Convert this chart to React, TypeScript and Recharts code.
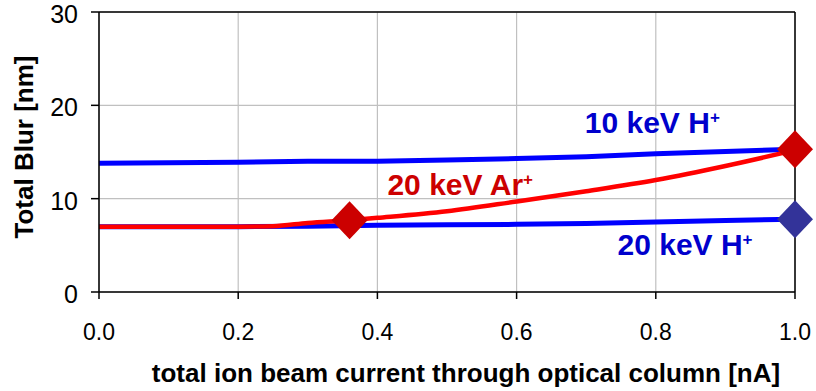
import React from 'react'
import {
  ComposedChart,
  Line,
  Scatter,
  XAxis,
  YAxis,
  CartesianGrid,
  ReferenceLine,
  ReferenceDot,
  Label,
} from 'recharts'

// x positions (total current, nA)
const hCurrent = [0, 0.1, 0.2, 0.3, 0.4, 0.5, 0.6, 0.7, 0.8, 0.9, 1.0]
const h10Blur = [13.8, 13.85, 13.9, 14.0, 14.0, 14.15, 14.3, 14.5, 14.8, 15.05, 15.3]
const h20Blur = [7.0, 7.0, 7.0, 7.05, 7.15, 7.2, 7.25, 7.35, 7.5, 7.65, 7.8]

const arCurrent = [0, 0.2, 0.25, 0.3, 0.36, 0.4, 0.5, 0.6, 0.7, 0.8, 0.9, 1.0]
const arBlur = [7.0, 7.0, 7.05, 7.4, 7.7, 7.95, 8.65, 9.7, 10.8, 12.0, 13.5, 15.2]

const arMarkerX = [0.36, 1.0]
const arMarkerY = [7.7, 15.3]
const h20MarkerX = [1.0]
const h20MarkerY = [7.8]

const xTicks = [0, 0.2, 0.4, 0.6, 0.8, 1.0]
const yTicks = [0, 10, 20, 30]

const h10Data = hCurrent.map((x, i) => ({ x, y: h10Blur[i] }))
const h20Data = hCurrent.map((x, i) => ({ x, y: h20Blur[i] }))
const arData = arCurrent.map((x, i) => ({ x, y: arBlur[i] }))
const arMarkers = arMarkerX.map((x, i) => ({ x, y: arMarkerY[i] }))
const h20Markers = h20MarkerX.map((x, i) => ({ x, y: h20MarkerY[i] }))

const FONT = '"Liberation Sans", Arial, sans-serif'

const diamond = (color: string) => (props: any) => {
  const { cx, cy } = props
  const w = 18
  const h = 19
  return (
    <path
      d={`M${cx},${cy - h} L${cx + w},${cy} L${cx},${cy + h} L${cx - w},${cy} Z`}
      fill={color}
    />
  )
}

const seriesLabel = (text: string, color: string) => (props: any) => {
  const { x, y, width, height } = props.viewBox
  return (
    <text
      x={x + width / 2}
      y={y + height / 2}
      textAnchor="middle"
      fill={color}
      fontFamily={FONT}
      fontWeight="bold"
      fontSize={30}
    >
      {text}
      <tspan dy={-10} fontSize={17}>+</tspan>
    </text>
  )
}

const YTick = (props: any) => {
  const { x, y, payload } = props
  return (
    <text x={x} y={y} dy={11} textAnchor="end" fill="#000" fontFamily={FONT} fontSize={25}>
      {payload.value}
    </text>
  )
}

export default function App() {
  return (
    <div style={{ position: 'absolute', left: 0, top: 0, background: '#fff' }}>
      <ComposedChart width={816} height={391} margin={{ top: 12, right: 21, bottom: 0, left: 0 }}>
        <CartesianGrid stroke="#C0C0C0" strokeWidth={1.2} />
        <XAxis
          type="number"
          dataKey="x"
          domain={[0, 1]}
          ticks={xTicks}
          tickFormatter={(v: number) => v.toFixed(1)}
          height={99}
          stroke="#000"
          strokeWidth={1.5}
          tickSize={7}
          tickMargin={25}
          tick={{ fill: '#000', fontSize: 23, fontFamily: FONT }}
          allowDuplicatedCategory={false}
        >
          <Label
            content={(p: any) => {
              const vb = p.viewBox
              return (
                <text
                  x={vb.x + vb.width / 2 + 19}
                  y={382}
                  textAnchor="middle"
                  fill="#000"
                  fontFamily={FONT}
                  fontWeight="bold"
                  fontSize={26}
                >
                  total ion beam current through optical column [nA]
                </text>
              )
            }}
          />
        </XAxis>
        <YAxis
          type="number"
          dataKey="y"
          domain={[0, 30]}
          ticks={yTicks}
          width={99}
          stroke="#000"
          strokeWidth={1.5}
          tickSize={8}
          tickMargin={13}
          tick={<YTick />}
        >
          <Label
            content={(p: any) => {
              const vb = p.viewBox
              const cy = vb.y + vb.height / 2 - 5
              return (
                <text
                  x={24}
                  y={cy}
                  transform={`rotate(-90, 24, ${cy})`}
                  textAnchor="middle"
                  dominantBaseline="central"
                  fill="#000"
                  fontFamily={FONT}
                  fontWeight="bold"
                  fontSize={26}
                >
                  Total Blur [nm]
                </text>
              )
            }}
          />
        </YAxis>
        <ReferenceLine y={30} stroke="#000" strokeWidth={1.5} />
        <ReferenceLine x={1} stroke="#000" strokeWidth={1.5} />

        <Line data={h10Data} dataKey="y" type="linear" stroke="#0000FF" strokeWidth={5} dot={false} activeDot={false} isAnimationActive={false} />
        <Line data={h20Data} dataKey="y" type="linear" stroke="#0000FF" strokeWidth={5} dot={false} activeDot={false} isAnimationActive={false} />
        <Line data={arData} dataKey="y" type="monotone" stroke="#FF0000" strokeWidth={4.5} dot={false} activeDot={false} isAnimationActive={false} />

        <Scatter data={h20Markers} dataKey="y" shape={diamond('#333399')} isAnimationActive={false} />
        <Scatter data={arMarkers} dataKey="y" shape={diamond('#CC0000')} isAnimationActive={false} />

        <ReferenceDot x={0.795} y={17.0} r={0} stroke="none" fill="none" label={seriesLabel('10 keV H', '#0000CC')} />
        <ReferenceDot x={0.519} y={10.4} r={0} stroke="none" fill="none" label={seriesLabel('20 keV Ar', '#CC0000')} />
        <ReferenceDot x={0.842} y={3.97} r={0} stroke="none" fill="none" label={seriesLabel('20 keV H', '#0000CC')} />
      </ComposedChart>
    </div>
  )
}
